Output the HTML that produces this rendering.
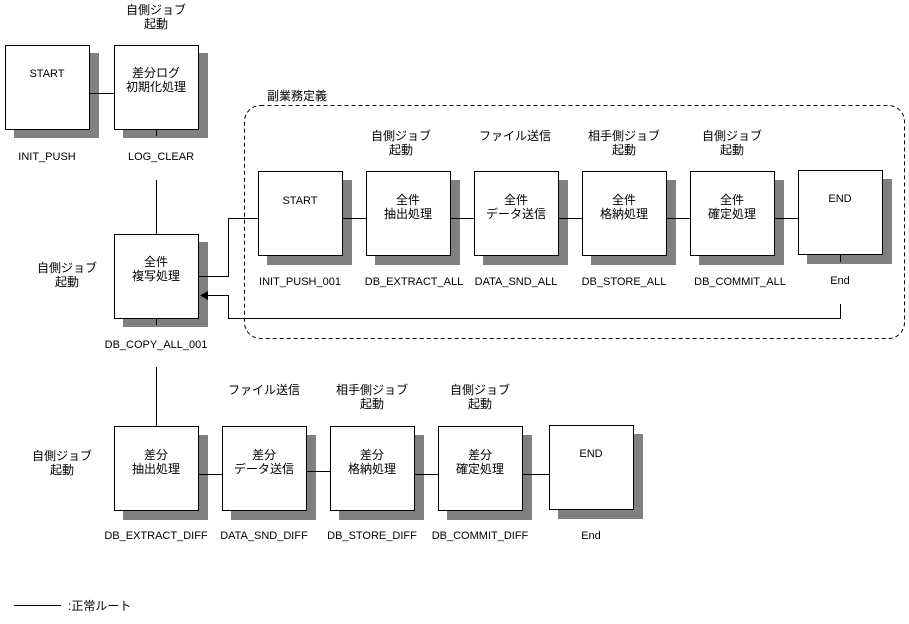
<!DOCTYPE html>
<html><head><meta charset="utf-8"><style>
html,body{margin:0;padding:0;background:#fff;}
svg{display:block;}
text{font-family:"Liberation Sans","Noto Sans CJK JP",sans-serif;font-size:12px;fill:#000;text-anchor:middle;}
text.e{font-size:11px;}
</style></head><body>
<svg width="909" height="624" viewBox="0 0 909 624" xmlns="http://www.w3.org/2000/svg">
<rect x="244.5" y="105.5" width="660" height="233" rx="16" ry="16" fill="none" stroke="#000" stroke-dasharray="4,3"/>
<text x="297" y="100">副業務定義</text>

<g fill="#808080" stroke="none">
<rect x="14" y="53" width="85" height="85"/>
<rect x="123" y="53" width="85" height="85"/>
<rect x="123" y="242" width="85" height="85"/>
<rect x="267" y="180" width="85" height="85"/>
<rect x="375" y="180" width="85" height="85"/>
<rect x="483" y="180" width="85" height="85"/>
<rect x="591" y="180" width="85" height="85"/>
<rect x="699" y="180" width="85" height="85"/>
<rect x="807" y="179" width="85" height="85"/>
<rect x="123" y="435" width="85" height="85"/>
<rect x="231" y="435" width="85" height="85"/>
<rect x="339" y="435" width="85" height="85"/>
<rect x="447" y="435" width="85" height="85"/>
<rect x="558" y="434" width="85" height="85"/>
</g>
<g fill="#fff" stroke="#000" stroke-width="1">
<rect x="5.5" y="45.5" width="84" height="84"/>
<rect x="114.5" y="45.5" width="84" height="84"/>
<rect x="114.5" y="234.5" width="84" height="84"/>
<rect x="258.5" y="171.5" width="84" height="84"/>
<rect x="366.5" y="171.5" width="84" height="84"/>
<rect x="474.5" y="171.5" width="84" height="84"/>
<rect x="582.5" y="171.5" width="84" height="84"/>
<rect x="690.5" y="171.5" width="84" height="84"/>
<rect x="798.5" y="170.5" width="84" height="84"/>
<rect x="114.5" y="426.5" width="84" height="84"/>
<rect x="222.5" y="426.5" width="84" height="84"/>
<rect x="330.5" y="426.5" width="84" height="84"/>
<rect x="438.5" y="426.5" width="84" height="84"/>
<rect x="549.5" y="425.5" width="84" height="84"/>
</g>

<g stroke="#000" stroke-width="1" fill="none">
<line x1="90" y1="93.5" x2="114" y2="93.5"/>
<line x1="156.5" y1="130" x2="156.5" y2="136"/>
<line x1="156.5" y1="180" x2="156.5" y2="234"/>
<line x1="156.5" y1="319" x2="156.5" y2="325"/>
<line x1="156.5" y1="367" x2="156.5" y2="426"/>
<polyline points="199,276.5 228.5,276.5 228.5,218.5 258,218.5"/>
<polyline points="840.5,255 840.5,262"/>
<polyline points="840.5,304 840.5,318.5 228.5,318.5 228.5,295.5 206,295.5"/>
<line x1="343" y1="218.5" x2="366" y2="218.5"/>
<line x1="451" y1="218.5" x2="474" y2="218.5"/>
<line x1="559" y1="218.5" x2="582" y2="218.5"/>
<line x1="667" y1="218.5" x2="690" y2="218.5"/>
<line x1="775" y1="218.5" x2="798" y2="218.5"/>
<line x1="199" y1="474.5" x2="222" y2="474.5"/>
<line x1="307" y1="471.5" x2="330" y2="471.5"/>
<line x1="415" y1="474.5" x2="438" y2="474.5"/>
<line x1="523" y1="474.5" x2="549" y2="474.5"/>
<line x1="14" y1="605.5" x2="61" y2="605.5"/>
</g>
<polygon points="200,295.5 208,291 208,300" fill="#000"/>

<text class="e" x="47" y="77">START</text>
<text class="e" x="47" y="160">INIT_PUSH</text>
<text x="156" y="77">差分ログ</text><text x="156" y="91">初期化処理</text>
<text x="156" y="14">自側ジョブ</text><text x="156" y="28">起動</text>
<text class="e" x="161" y="160">LOG_CLEAR</text>

<text x="156" y="266">全件</text><text x="156" y="280">複写処理</text>
<text x="67" y="272">自側ジョブ</text><text x="67" y="286">起動</text>
<text class="e" x="156" y="348">DB_COPY_ALL_001</text>

<text class="e" x="300" y="204">START</text>
<text class="e" x="300" y="285">INIT_PUSH_001</text>
<text x="408" y="204">全件</text><text x="408" y="218">抽出処理</text>
<text x="401" y="140">自側ジョブ</text><text x="401" y="154">起動</text>
<text class="e" x="414" y="285">DB_EXTRACT_ALL</text>
<text x="516" y="204">全件</text><text x="516" y="218">データ送信</text>
<text x="515" y="140">ファイル送信</text>
<text class="e" x="516" y="285">DATA_SND_ALL</text>
<text x="624" y="204">全件</text><text x="624" y="218">格納処理</text>
<text x="624" y="140">相手側ジョブ</text><text x="624" y="154">起動</text>
<text class="e" x="624" y="285">DB_STORE_ALL</text>
<text x="732" y="204">全件</text><text x="732" y="218">確定処理</text>
<text x="732" y="140">自側ジョブ</text><text x="732" y="154">起動</text>
<text class="e" x="740" y="285">DB_COMMIT_ALL</text>
<text class="e" x="840" y="202">END</text>
<text class="e" x="840" y="284">End</text>

<text x="156" y="459">差分</text><text x="156" y="473">抽出処理</text>
<text x="62" y="460">自側ジョブ</text><text x="62" y="474">起動</text>
<text class="e" x="156" y="539">DB_EXTRACT_DIFF</text>
<text x="264" y="459">差分</text><text x="264" y="473">データ送信</text>
<text x="264" y="394">ファイル送信</text>
<text class="e" x="264" y="539">DATA_SND_DIFF</text>
<text x="372" y="459">差分</text><text x="372" y="473">格納処理</text>
<text x="372" y="394">相手側ジョブ</text><text x="372" y="408">起動</text>
<text class="e" x="372" y="539">DB_STORE_DIFF</text>
<text x="480" y="459">差分</text><text x="480" y="473">確定処理</text>
<text x="480" y="394">自側ジョブ</text><text x="480" y="408">起動</text>
<text class="e" x="480" y="539">DB_COMMIT_DIFF</text>
<text class="e" x="591" y="457">END</text>
<text class="e" x="591" y="539">End</text>

<text x="68" y="610" style="text-anchor:start">:正常ルート</text>
</svg>
</body></html>
